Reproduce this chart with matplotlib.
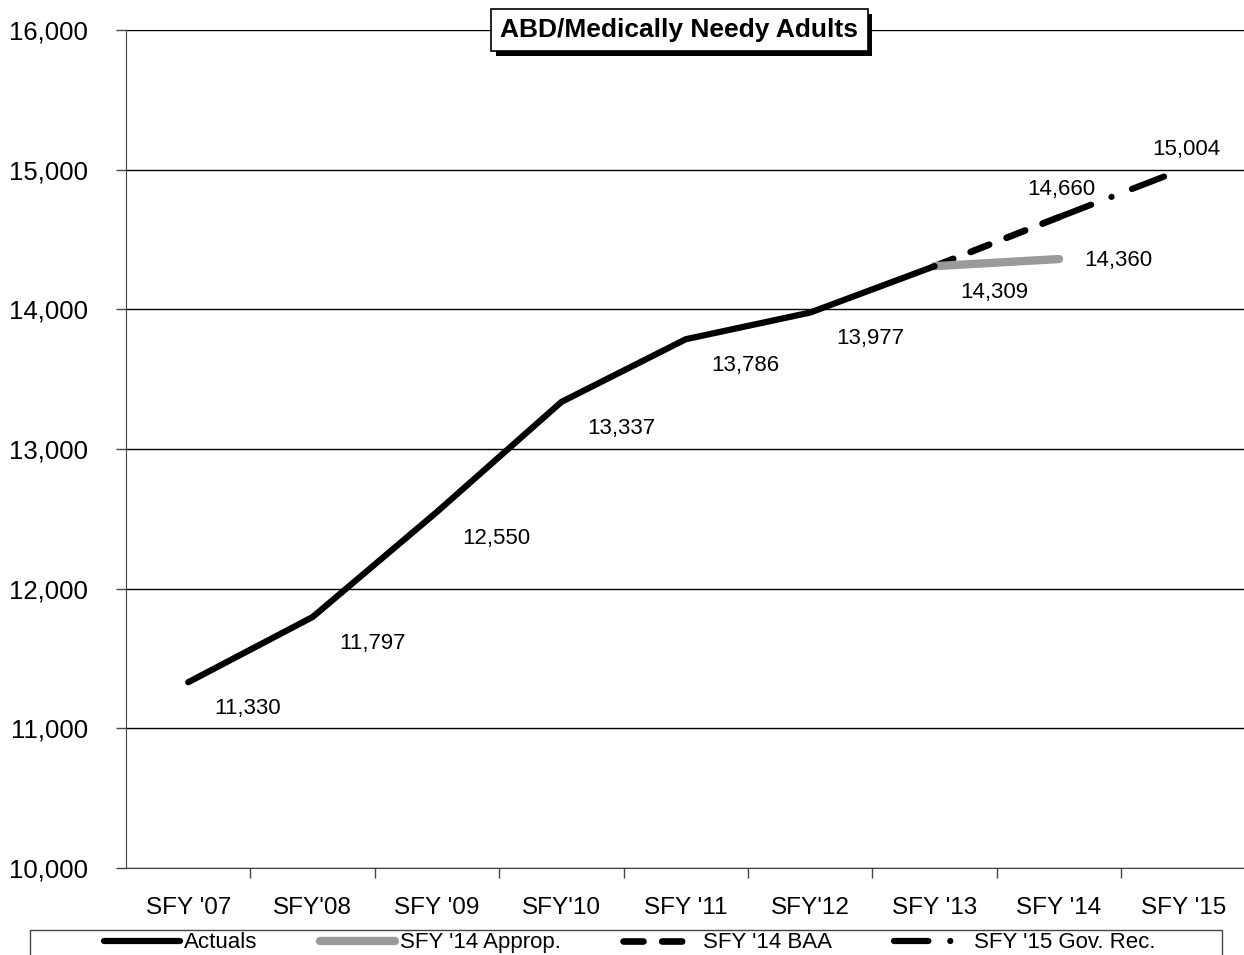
import matplotlib
matplotlib.use("Agg")
import matplotlib.pyplot as plt
import matplotlib.patheffects as pe
from matplotlib.patches import Rectangle
from matplotlib.ticker import FixedLocator, FuncFormatter

plt.rcParams['font.family'] = ['Liberation Sans', 'DejaVu Sans']

# Data
years = ["SFY '07", "SFY'08", "SFY '09", "SFY'10", "SFY '11", "SFY'12", "SFY '13", "SFY '14", "SFY '15"]
actuals = [11330, 11797, 12550, 13337, 13786, 13977, 14309]
approp_x = ["SFY '13", "SFY '14"]
approp = [14309, 14360]
baa_x = ["SFY '13", "SFY '14"]
baa = [14309, 14660]
govrec_x = ["SFY '14", "SFY '15"]
govrec = [14660, 15004]

fig = plt.figure(figsize=(12.44, 9.55), dpi=100)
ax = fig.add_axes([0.1013, 0.0911, 0.9, 0.8775])

xi = {y: i for i, y in enumerate(years)}

ax.plot([xi[y] for y in govrec_x], govrec, color='black', lw=4.5,
        dashes=(5.5, 3.5, 0.01, 3.5), dash_capstyle='round',
        label="SFY '15 Gov. Rec.", zorder=3)
ax.plot([xi[y] for y in baa_x], baa, color='black', lw=4.8, dashes=(3, 2.8),
        dash_capstyle='round', label="SFY '14 BAA", zorder=3)
ax.plot([xi[y] for y in approp_x], approp, color='#9a9a9a', lw=6,
        solid_capstyle='round', label="SFY '14 Approp.", zorder=4)
ax.plot(range(len(actuals)), actuals, color='black', lw=4.5,
        solid_capstyle='round', label='Actuals', zorder=5)

# Value labels
lab_kw = dict(textcoords='offset points', fontsize=16, ha='center', va='center')
for i, v in enumerate(actuals):
    ax.annotate(f"{v:,}", (i, v), xytext=(43, -19), **lab_kw)
ax.annotate(f"{approp[-1]:,}", (xi[approp_x[-1]], approp[-1]), xytext=(43, -1), **lab_kw)
ax.annotate(f"{baa[-1]:,}", (xi[baa_x[-1]], baa[-1]), xytext=(2, 20), **lab_kw)
ax.annotate(f"{govrec[-1]:,}", (xi[govrec_x[-1]], govrec[-1]), xytext=(2, 14), **lab_kw)

ax.set_xlim(-0.5, len(years) - 0.5)
ax.set_ylim(10000, 16000)
ax.set_yticks(range(10000, 16001, 1000))
ax.yaxis.set_major_formatter(FuncFormatter(lambda v, p: f"{int(v):,}"))
ax.grid(axis='y', color='black', lw=1)
ax.set_axisbelow(True)

ax.xaxis.set_major_locator(FixedLocator([i + 0.5 for i in range(len(years))]))
ax.xaxis.set_minor_locator(FixedLocator(range(len(years))))
ax.set_xticklabels([])
ax.set_xticklabels(years, minor=True)
ax.tick_params(axis='x', which='major', direction='out', length=7, width=1, color='#444444')
ax.tick_params(axis='x', which='minor', length=0, pad=21, labelsize=17.5)
ax.tick_params(axis='y', direction='out', length=7.2, width=1, pad=20, labelsize=18.5,
               color='#444444')

for s in ['top', 'right']:
    ax.spines[s].set_visible(False)
ax.spines['left'].set_color('#444444')
ax.spines['bottom'].set_color('#444444')

# Title box with drop shadow
title = ax.text(0.4942, 1.0, "ABD/Medically Needy Adults", transform=ax.transAxes,
                ha='center', va='center', fontsize=19, fontweight='bold', zorder=11,
                bbox=dict(boxstyle='square,pad=0.35', fc='white', ec='black', lw=1.2))
title.get_bbox_patch().set_path_effects([
    pe.SimplePatchShadow(offset=(3.5, -3.5), shadow_rgbFace='black', alpha=1.0),
    pe.Normal()])

# Legend along the bottom edge
handles, labels = ax.get_legend_handles_labels()
order = [3, 2, 1, 0]
leg = fig.legend([handles[i] for i in order], [labels[i] for i in order],
                 loc='upper center', bbox_to_anchor=(630 / 1244, 1 - 928 / 955),
                 ncol=4, fontsize=16, frameon=False, handlelength=3.4,
                 handletextpad=0.2, borderpad=0.2, borderaxespad=0, columnspacing=2.8)
fig.patches.append(Rectangle((30 / 1244, -0.01), 1192 / 1244, 0.01 + 25 / 955,
                             transform=fig.transFigure, fill=False, ec='#444444', lw=1))

fig.savefig('out.png', dpi=100)
